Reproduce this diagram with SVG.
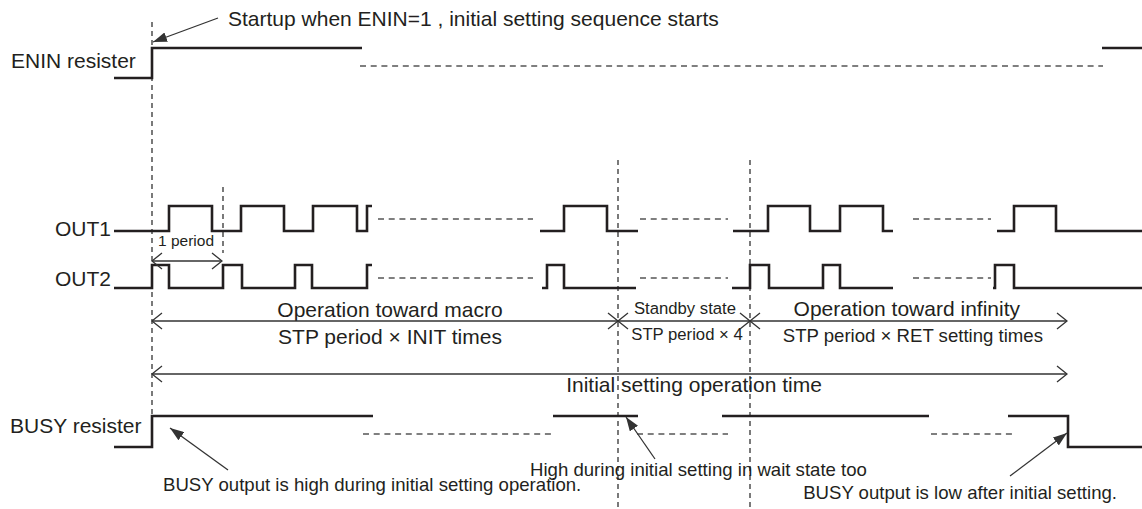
<svg xmlns="http://www.w3.org/2000/svg" width="1142" height="509" viewBox="0 0 1142 509">
<style>
text{font-family:"Liberation Sans",Arial,sans-serif;fill:#231f20}
.w{fill:none;stroke:#231f20;stroke-width:2.6;stroke-linejoin:miter}
.d{fill:none;stroke:#555;stroke-width:1.6;stroke-dasharray:6 4.7}
.v{fill:none;stroke:#333;stroke-width:1.3;stroke-dasharray:5 4}
.a{fill:none;stroke:#333;stroke-width:1.3}
.l{font-size:21px}
.m{font-size:18.6px}
.s{font-size:16.7px}
</style>
<defs>
<marker id="fa" viewBox="0 0 14 10" refX="14" refY="5" markerWidth="14" markerHeight="10" markerUnits="userSpaceOnUse" orient="auto">
<path d="M0,0 L14,5 L0,10 z" fill="#333"/>
</marker>
<marker id="oa" viewBox="0 0 12 18" refX="11" refY="9" markerWidth="12" markerHeight="18" markerUnits="userSpaceOnUse" orient="auto-start-reverse">
<path d="M1,1 L11,9 L1,17" fill="none" stroke="#333" stroke-width="1.3"/>
</marker>
</defs>
<rect width="1142" height="509" fill="#fff"/>

<g id="guides">
<path class="v" d="M152,22 V416"/>
<path class="v" d="M223,187 V253"/>
<path class="v" d="M618,160 V509"/>
<path class="v" d="M750,160 V509"/>
</g>

<g id="enin">
<text class="l" x="11" y="68">ENIN resister</text>
<path class="w" d="M114,78 H152 V48 H362"/>
<path class="d" d="M360,66 H1103"/>
<path class="w" d="M1102,48 H1142"/>
</g>

<g id="out1">
<text class="l" x="111" y="236" text-anchor="end">OUT1</text>
<path class="w" d="M114,231 H169 V206 H212 V231 H241 V206 H284 V231 H313 V206 H357 V231 H367 V206 H372"/>
<path class="d" d="M378,219 H533"/>
<path class="w" d="M540,231 H564 V206 H607 V231 H638"/>
<path class="d" d="M640,219 H728"/>
<path class="w" d="M733,231 H768 V206 H810 V231 H840 V206 H883 V231 H893"/>
<path class="d" d="M913,219 H991"/>
<path class="w" d="M997,231 H1014 V206 H1056 V231 H1142"/>
</g>

<g id="out2">
<text class="l" x="111" y="286" text-anchor="end">OUT2</text>
<path class="w" d="M114,288 H152 V265 H169 V288 H223 V265 H242 V288 H295 V265 H312 V288 H367 V265 H372"/>
<path class="d" d="M378,278 H533"/>
<path class="w" d="M542,288 H547 V265 H564 V288 H636"/>
<path class="d" d="M640,278 H728"/>
<path class="w" d="M732,288 H750 V265 H769 V288 H823 V265 H840 V288 H893"/>
<path class="d" d="M913,278 H991"/>
<path class="w" d="M993,288 H995 V265 H1014 V288 H1142"/>
</g>

<g id="busy">
<text class="l" x="10" y="433">BUSY resister</text>
<path class="w" d="M114,447 H152 V416 H373"/>
<path class="d" d="M363,434 H552"/>
<path class="w" d="M553,416 H638"/>
<path class="d" d="M637,434 H728"/>
<path class="w" d="M722,416 H929"/>
<path class="d" d="M931,434 H1012"/>
<path class="w" d="M1008,416 H1068 V447 H1142"/>
</g>

<g id="labels">
<text class="l" x="228" y="26">Startup when ENIN=1 , initial setting sequence starts</text>
<text x="158" y="246" style="font-size:15.5px">1 period</text>
<text class="l" x="390" y="317" text-anchor="middle">Operation toward macro</text>
<text class="l" x="390" y="344" text-anchor="middle">STP period × INIT times</text>
<text class="s" x="685" y="314" text-anchor="middle">Standby state</text>
<text class="s" x="687" y="340" text-anchor="middle">STP period × 4</text>
<text class="l" x="1020" y="316" text-anchor="end">Operation toward infinity</text>
<text class="m" x="1043" y="342" text-anchor="end">STP period × RET setting times</text>
<text class="l" x="694" y="392" text-anchor="middle">Initial setting operation time</text>
<text class="m" x="163" y="491">BUSY output is high during initial setting operation.</text>
<text class="m" x="530" y="476">High during initial setting in wait state too</text>
<text class="m" x="1117" y="499" text-anchor="end">BUSY output is low after initial setting.</text>
</g>

<g id="connectors">
<path class="a" d="M218,18 L153,42" marker-end="url(#fa)"/>
<path class="a" d="M228,470 L170,428" marker-end="url(#fa)"/>
<path class="a" d="M655,459 L626,417" marker-end="url(#fa)"/>
<path class="a" d="M1010,476 L1067,433" marker-end="url(#fa)"/>
<path class="a" d="M152,261 H222" marker-start="url(#oa)" marker-end="url(#oa)"/>
<path class="a" d="M152,321 H618" marker-start="url(#oa)" marker-end="url(#oa)"/>
<path class="a" d="M618,321 H750" marker-start="url(#oa)" marker-end="url(#oa)"/>
<path class="a" d="M750,321 H1067" marker-start="url(#oa)" marker-end="url(#oa)"/>
<path class="a" d="M152,374 H1067" marker-start="url(#oa)" marker-end="url(#oa)"/>
</g>
</svg>
